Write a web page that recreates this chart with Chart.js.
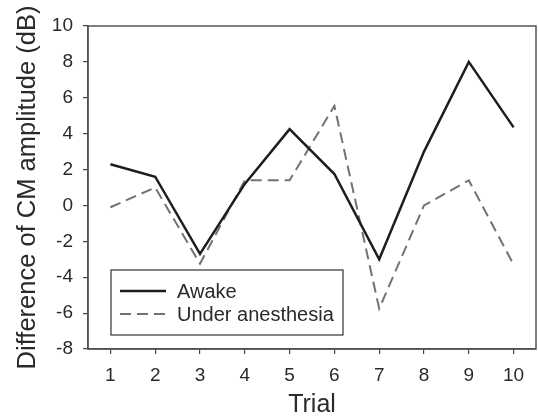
<!DOCTYPE html>
<html>
<head>
<meta charset="utf-8">
<script src="https://cdn.jsdelivr.net/npm/chart.js@4.4.0/dist/chart.umd.min.js"></script>
<style>
  html, body { margin: 0; padding: 0; background: #fff; }
  #wrap { width: 538px; height: 418px; }
</style>
</head>
<body>
<div id="wrap"><canvas id="cmChart" width="538" height="418"></canvas></div>
<script>
// data
const trials = ['1', '2', '3', '4', '5', '6', '7', '8', '9', '10'];
const awake = [2.3, 1.6, -2.7, 1.2, 4.25, 1.75, -3.0, 3.0, 8.0, 4.35];
const anesthesia = [-0.1, 1.0, -3.25, 1.4, 1.4, 5.55, -5.75, 0.0, 1.4, -3.3];
const seriesNames = ['Awake', 'Under anesthesia'];
const yMin = -8, yMax = 10, yStep = 2;

const fontFamily = '"Liberation Sans", Arial, sans-serif';
const textColor = '#2a2a2a';

// box around the plot + legend inside the plot area
const framePlugin = {
  id: 'frameAndLegend',
  afterDatasetsDraw(chart) {
    const { ctx, chartArea: a } = chart;
    ctx.save();
    ctx.strokeStyle = '#555';
    ctx.lineWidth = 1.5;
    ctx.strokeRect(a.left, a.top, a.right - a.left, a.bottom - a.top);

    // legend box
    const bx = a.left + 23, by = a.top + 244, bw = 232, bh = 65;
    ctx.fillStyle = '#fff';
    ctx.fillRect(bx, by, bw, bh);
    ctx.strokeStyle = '#333';
    ctx.lineWidth = 1.2;
    ctx.strokeRect(bx, by, bw, bh);

    chart.data.datasets.forEach((ds, i) => {
      const y = by + 21 + i * 23;
      ctx.beginPath();
      ctx.setLineDash(ds.borderDash || []);
      ctx.strokeStyle = ds.borderColor;
      ctx.lineWidth = ds.borderWidth;
      ctx.moveTo(bx + 9, y);
      ctx.lineTo(bx + 55, y);
      ctx.stroke();
      ctx.setLineDash([]);
      ctx.fillStyle = textColor;
      ctx.font = '20px ' + fontFamily;
      ctx.textBaseline = 'middle';
      ctx.fillText(ds.label, bx + 66, y + 1);
    });
    ctx.restore();
  }
};

new Chart(document.getElementById('cmChart'), {
  type: 'line',
  data: {
    labels: trials,
    datasets: [{
      label: seriesNames[0],
      data: awake,
      borderColor: '#1e1e1e',
      borderWidth: 2.5,
      pointRadius: 0,
      tension: 0,
      fill: false
    }, {
      label: seriesNames[1],
      data: anesthesia,
      borderColor: '#727272',
      borderWidth: 2,
      borderDash: [11, 6],
      pointRadius: 0,
      tension: 0,
      fill: false
    }]
  },
  options: {
    responsive: false,
    animation: false,
    layout: { padding: { top: 26, right: 2, left: 0, bottom: 0 } },
    plugins: {
      legend: { display: false },
      tooltip: { enabled: false }
    },
    scales: {
      x: {
        type: 'category',
        offset: true,
        grid: { display: true, drawOnChartArea: false, offset: false, tickLength: 5, color: '#444', lineWidth: 1.2 },
        border: { display: true, color: '#444', width: 1.5 },
        ticks: { color: textColor, font: { family: fontFamily, size: 19 }, padding: 10, maxRotation: 0 },
        title: { display: true, text: 'Trial', color: textColor, font: { family: fontFamily, size: 25, lineHeight: 1.0 }, padding: { top: 0, bottom: 0 } },
        afterFit(scale) { scale.height = 69; }
      },
      y: {
        min: yMin,
        max: yMax,
        ticks: { stepSize: yStep, color: textColor, font: { family: fontFamily, size: 19 }, padding: 10 },
        grid: { display: true, drawOnChartArea: false, tickLength: 5, color: '#444', lineWidth: 1.2 },
        border: { display: true, color: '#444', width: 1.5 },
        title: { display: true, text: 'Difference of CM amplitude (dB)', color: textColor, font: { family: fontFamily, size: 25.5 }, padding: { top: 13, bottom: 0 } },
        afterFit(scale) { scale.width = 88; }
      }
    }
  },
  plugins: [framePlugin]
});
</script>
</body>
</html>
